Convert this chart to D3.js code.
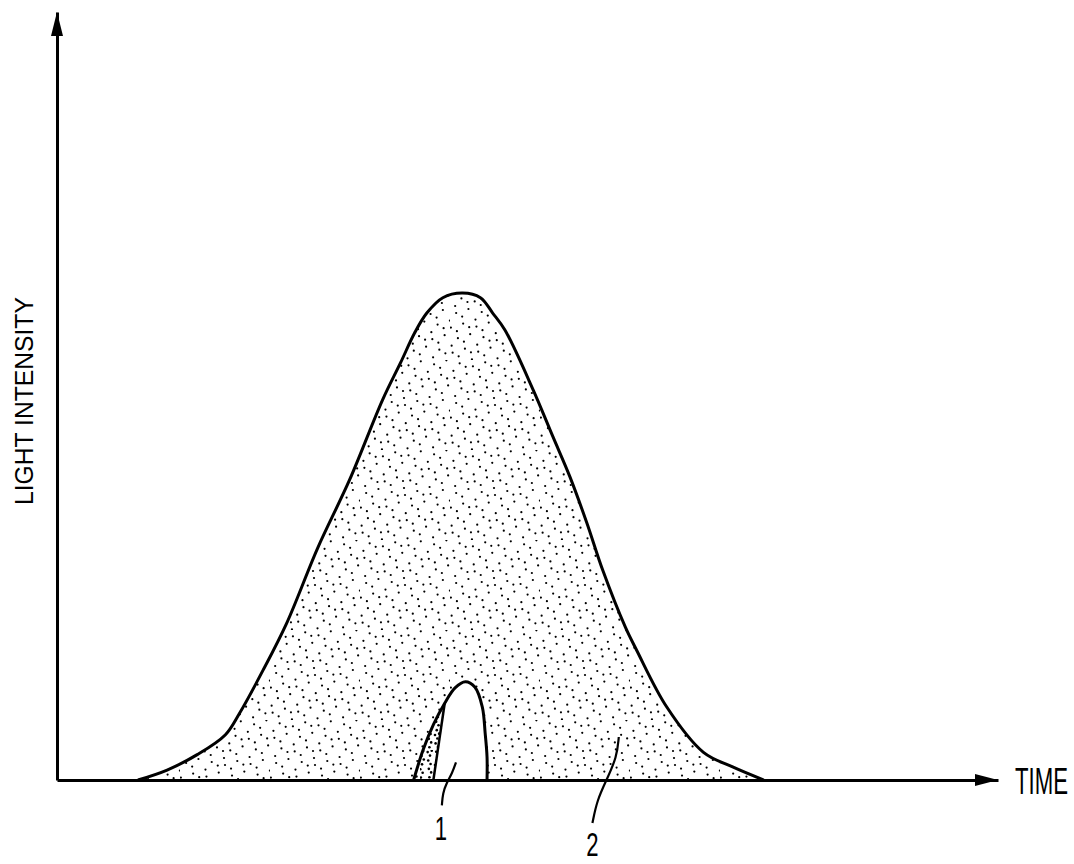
<!DOCTYPE html>
<html>
<head>
<meta charset="utf-8">
<script src="https://cdnjs.cloudflare.com/ajax/libs/d3/7.8.5/d3.min.js"></script>
<style>
  html, body { margin: 0; padding: 0; background: #fff; }
  text { font-family: "Liberation Sans", Arial, sans-serif; fill: #000; }
</style>
</head>
<body>
<div id="chart"></div>
<script>
// light pulse 2 (the wide one) - time / intensity, arbitrary units
const pulseTime = [8.6, 11.7, 14.9, 17.9, 19.4, 21.9, 24.4, 27.7, 31.1, 34.6, 36.5, 38.0, 39.3, 41.0, 43.1,
                   45.0, 46.3, 47.6, 50.6, 52.7, 54.5, 56.3, 58.0, 60.4, 61.6, 64.8, 68.7, 71.8, 75.1];
const pulseIntensity = [0, 1.3, 3.3, 5.9, 8.7, 14.3, 20.4, 30.2, 39.1, 49.5, 54.3, 58.2, 60.8, 62.8, 63.4,
                        62.8, 60.8, 58.6, 50.8, 44.7, 39.5, 33.5, 27.3, 19.9, 16.9, 9.5, 3.6, 1.7, 0];

// light pulse 1 (the short one)
const smallTime = [37.9, 38.9, 40.0, 41.2, 42.3, 43.4, 44.4, 45.2, 45.5, 45.7, 45.7];
const smallIntensity = [0, 3.9, 7.2, 10.0, 12.0, 12.8, 12.1, 9.5, 6.1, 3.0, 0];
// inner edge of the shaded sliver on the left of pulse 1
const innerTime = [40.0, 41.2];
const innerIntensity = [0, 10.0];

// reference labels
const labelText = ['1', '2'];
const labelTime = [40.8, 56.9];
const labelIntensity = [-7.8, -9.9];
const leader1Time = [42.4, 42.0, 41.4, 41.0, 40.9];
const leader1Int = [2.3, 0.9, -0.4, -1.7, -3.3];
const leader2Time = [59.7, 59.5, 58.4, 57.4, 56.9];
const leader2Int = [5.6, 3.0, 0, -2.6, -5.6];

const width = 1074, height = 864;
const x = d3.scaleLinear().domain([0, 100]).range([57, 998]);
const y = d3.scaleLinear().domain([0, 100]).range([780, 12]);

const svg = d3.select('#chart').append('svg')
  .attr('width', width).attr('height', height)
  .style('display', 'block');

// stipple patterns
const defs = svg.append('defs');
function stipple(id, size, n, r) {
  const p = defs.append('pattern').attr('id', id)
    .attr('patternUnits', 'userSpaceOnUse').attr('width', size).attr('height', size);
  const a1 = 0.7548776662, a2 = 0.5698402910;
  for (let i = 0; i < n; i++) {
    const px = ((0.5 + a1 * i) % 1) * size;
    const py = ((0.5 + a2 * i) % 1) * size;
    p.append('circle').attr('cx', px.toFixed(2)).attr('cy', py.toFixed(2)).attr('r', r).attr('fill', '#000');
  }
}
stipple('dots', 90, 100, 1.1);
stipple('dotsDense', 30, 30, 1.3);

const big = pulseTime.map((t, i) => [t, pulseIntensity[i]]);
const small = smallTime.map((t, i) => [t, smallIntensity[i]]);

const curve = d3.curveCatmullRom.alpha(0.5);
const area = d3.area().curve(curve)
  .x(d => x(d[0])).y0(y(0)).y1(d => y(d[1]));
const line = d3.line().curve(curve)
  .x(d => x(d[0])).y(d => y(d[1]));

// pulse 2
svg.append('path').datum(big).attr('d', area).attr('fill', 'url(#dots)');
svg.append('path').datum(big).attr('d', line)
  .attr('fill', 'none').attr('stroke', '#000').attr('stroke-width', 3).attr('stroke-linejoin', 'round');

// pulse 1
svg.append('path').datum(small).attr('d', line(small) + 'Z').attr('fill', '#fff');
// shaded sliver: follow the outer edge, then straight back down the inner edge
const outerD = line(small.slice(0, 4));
svg.append('path')
  .attr('d', outerD + 'L' + x(innerTime[0]) + ',' + y(innerIntensity[0]) + 'Z')
  .attr('fill', 'url(#dotsDense)');
svg.append('path').datum(small).attr('d', line)
  .attr('fill', 'none').attr('stroke', '#000').attr('stroke-width', 3);
svg.append('path').datum(innerTime.map((t, i) => [t, innerIntensity[i]]))
  .attr('d', d3.line().x(d => x(d[0])).y(d => y(d[1])))
  .attr('fill', 'none').attr('stroke', '#000').attr('stroke-width', 2.5);

// axes (no ticks, arrow heads at the ends)
svg.append('g').attr('transform', `translate(0,${y(0)})`)
  .call(d3.axisBottom(x).tickValues([]).tickSizeOuter(0));
svg.append('g').attr('transform', `translate(${x(0)},0)`)
  .call(d3.axisLeft(y).tickValues([]).tickSizeOuter(0));
svg.selectAll('.domain').attr('stroke', '#000').attr('stroke-width', 3);

svg.append('path')
  .attr('d', `M${x(100)},${y(0)} L${x(100) - 23},${y(0) - 6} L${x(100) - 23},${y(0) + 6} Z`)
  .attr('fill', '#000');
svg.append('path')
  .attr('d', `M${x(0)},${y(100)} L${x(0) - 6},${y(100) + 24} L${x(0) + 6},${y(100) + 24} Z`)
  .attr('fill', '#000');

// condensed lettering: squeeze a text horizontally to a target width
function condensed(base, size, target, anchor) {
  const g = svg.append('g').attr('transform', base);
  const t = g.append('text').attr('font-size', size).attr('text-anchor', anchor || 'start');
  return function (s) {
    t.text(s);
    const w = t.node().getComputedTextLength();
    t.attr('transform', `scale(${(target / w).toFixed(3)},1)`);
    return t;
  };
}

condensed('translate(1015,794)', 37, 53)('TIME');
condensed('translate(33,505) rotate(-90)', 25, 208)('LIGHT INTENSITY');

// leaders and reference numerals
const leader = d3.line().curve(d3.curveBasis).x(d => x(d[0])).y(d => y(d[1]));
[[leader1Time, leader1Int], [leader2Time, leader2Int]].forEach(([ts, is]) => {
  svg.append('path').datum(ts.map((t, i) => [t, is[i]])).attr('d', leader)
    .attr('fill', 'none').attr('stroke', '#000').attr('stroke-width', 2.2);
});
labelText.forEach((s, i) => {
  const g = svg.append('g').attr('transform', `translate(${x(labelTime[i])},${y(labelIntensity[i])})`);
  g.append('text').attr('text-anchor', 'middle').attr('font-size', 34)
    .attr('transform', 'scale(0.65,1)')
    .text(s);
});
</script>
</body>
</html>
